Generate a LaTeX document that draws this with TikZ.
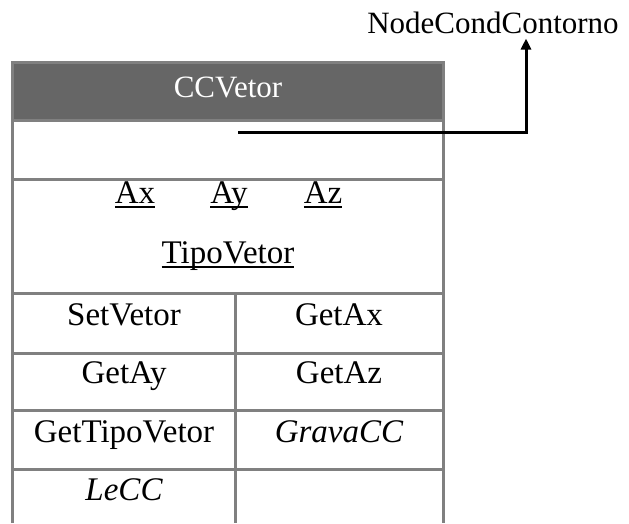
\documentclass[tikz,border=0pt]{standalone}
\usepackage{fontspec}
\setmainfont{Liberation Serif}
\usetikzlibrary{arrows.meta}
\definecolor{gridgray}{HTML}{808080}
\definecolor{headfill}{HTML}{666666}
% underline drawn at a fixed depth below the baseline, through descenders
\newcommand\attrline[1]{\setbox0\hbox{#1}\rlap{\vrule height -3.2pt depth 4.8pt width \wd0}\box0}
\begin{document}
\begin{tikzpicture}[x=1pt,y=-1pt,
  grid/.style={draw=gridgray,line width=3pt},
  txt/.style={inner sep=0pt,anchor=base,font=\fontsize{31}{36}\selectfont},
  cell/.style={txt,font=\fontsize{33}{38}\selectfont},
  conn/.style={draw=black,line width=3pt,-{Triangle[width=10pt,length=11pt]}}]
  \useasboundingbox (0,0) rectangle (629,523);

  % class header
  \fill[headfill] (12,62) rectangle (443,120);
  \node[txt,text=white] (title) at (228,97) {CCVetor};

  % outline and separators of the class box
  \draw[grid] (12,523) -- (12,62) -- (443,62) -- (443,523);
  \draw[grid] (12,120) -- (443,120);
  \draw[grid] (12,179) -- (443,179);
  \draw[grid] (12,293) -- (443,293);
  \draw[grid] (12,353) -- (443,353);
  \draw[grid] (12,410) -- (443,410);
  \draw[grid] (12,469) -- (443,469);
  \draw[grid] (235,293) -- (235,523);

  % attributes
  \node[cell] (ax) at (135,203) {\attrline{Ax}};
  \node[cell] (ay) at (229,203) {\attrline{Ay}};
  \node[cell] (az) at (323,203) {\attrline{Az}};
  \node[cell] (tipo) at (228,263) {\attrline{TipoVetor}};

  % methods
  \node[cell] (setvetor) at (124,325) {SetVetor};
  \node[cell] (getax) at (339,325) {GetAx};
  \node[cell] (getay) at (124,383) {GetAy};
  \node[cell] (getaz) at (339,383) {GetAz};
  \node[cell] (gettipo) at (124,442) {GetTipoVetor};
  \node[cell] (grava) at (339,442) {\itshape GravaCC};
  \node[cell] (lecc) at (124,500) {\itshape LeCC};

  % association to the base class
  \node[txt] (base) at (493,33) {NodeCondContorno};
  \coordinate (src) at (238,132);
  \path ([shift={(33,5)}]base.south) coordinate (tip);
  \draw[conn] (src) -| (tip);
\end{tikzpicture}
\end{document}
